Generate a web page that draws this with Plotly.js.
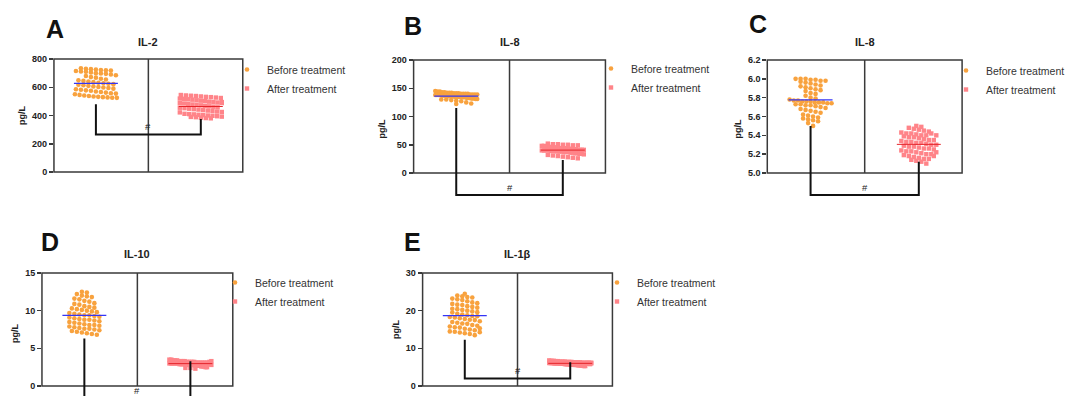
<!DOCTYPE html>
<html><head><meta charset="utf-8">
<script src="https://cdn.plot.ly/plotly-3.0.1.min.js"></script>
<style>html,body{margin:0;padding:0;background:#fff;} #chart{width:1070px;height:396px;}</style>
</head><body><div id="chart"></div>
<script>
// ---------------- data ----------------
const panelLetters = ['A', 'B', 'C', 'D', 'E'];
const panelTitles = ['IL-2', 'IL-8', 'IL-8', 'IL-10', 'IL-1β'];
const groupNames = ['Before treatment', 'After treatment'];
const yUnit = 'pg/L';

const il2Before = [735,730,728,725,722,720,718,715,712,710,705,700,698,695,690,685,680,672,668,660,655,650,645,640,636,632,628,625,622,618,615,610,606,602,598,595,590,586,582,578,575,570,566,562,558,555,550,546,542,538,535,532,530,528,526,525];
const il2After = [545,542,540,538,535,532,530,527,524,520,518,515,512,508,505,502,498,495,492,488,485,482,478,475,472,468,465,462,458,455,452,448,445,442,438,435,432,428,425,422,488,495,412,410,408,405,402,400,398,395,392,390,388,385,382,380];
const il8bBefore = [145,144,144,143,143,142,142,142,141,141,141,140,140,140,140,139,139,139,139,138,138,138,138,137,137,137,137,136,136,136,136,136,135,135,135,135,134,134,134,134,133,133,133,132,132,132,131,131,130,130,129,128,127,125,123,122];
const il8bAfter = [52,51,51,50,50,49,49,48,48,47,47,46,46,45,45,45,44,44,44,43,43,43,42,42,42,41,41,41,41,40,40,40,40,39,39,39,38,38,38,37,37,37,36,36,35,35,34,34,33,32,31,30,29,28,27,26];
const il8cBefore = [6.00,6.00,6.00,5.99,5.99,5.98,5.98,5.97,5.96,5.95,5.94,5.93,5.92,5.91,5.90,5.89,5.88,5.87,5.85,5.84,5.82,5.80,5.79,5.78,5.77,5.77,5.76,5.76,5.76,5.75,5.75,5.75,5.74,5.74,5.73,5.73,5.72,5.72,5.71,5.70,5.69,5.68,5.67,5.66,5.65,5.64,5.62,5.61,5.60,5.59,5.58,5.57,5.56,5.55,5.53,5.50];
const il8cAfter = [5.50,5.49,5.48,5.47,5.46,5.45,5.44,5.43,5.42,5.42,5.41,5.40,5.40,5.39,5.38,5.38,5.37,5.36,5.35,5.35,5.34,5.33,5.33,5.32,5.32,5.31,5.30,5.30,5.29,5.28,5.28,5.27,5.26,5.26,5.25,5.24,5.23,5.23,5.22,5.21,5.20,5.20,5.19,5.18,5.17,5.16,5.15,5.15,5.14,5.13,5.12,5.10,5.42,5.40,5.22,5.18];
const il10Before = [12.5,12.4,12.2,12.0,11.9,11.8,11.6,11.5,11.3,11.2,11.0,10.9,10.8,10.6,10.5,10.4,10.3,10.2,10.1,10.0,9.9,9.8,9.7,9.6,9.5,9.4,9.4,9.3,9.2,9.1,9.0,8.9,8.8,8.8,8.7,8.6,8.5,8.4,8.3,8.2,8.1,8.1,8.0,7.9,7.8,7.7,7.6,7.6,7.5,7.4,7.3,7.2,7.1,7.0,6.9,6.8];
const il10After = [3.5,3.5,3.4,3.4,3.4,3.3,3.3,3.3,3.3,3.2,3.2,3.2,3.2,3.2,3.1,3.1,3.1,3.1,3.1,3.1,3.0,3.0,3.0,3.0,3.0,3.0,3.0,2.9,2.9,2.9,2.9,2.9,2.9,2.8,2.8,2.8,2.8,2.8,2.7,2.7,2.7,2.7,2.6,2.6,2.6,2.5,2.5,2.4,2.4,2.3,3.0,3.1,2.9,3.2,2.8,3.3];
const il1bBefore = [24.5,24.0,23.8,23.6,23.5,23.2,23.0,22.8,22.5,22.2,22.0,21.8,21.6,21.5,21.2,21.0,20.8,20.5,20.4,20.2,20.0,19.8,19.6,19.5,19.2,19.0,18.8,18.6,18.5,18.3,18.2,18.0,17.8,17.6,17.5,17.2,17.0,16.8,16.6,16.5,16.2,16.0,15.8,15.6,15.5,15.2,15.0,14.8,14.5,14.4,14.2,14.0,13.8,13.5,14.3,15.3];
const il1bAfter = [6.8,6.7,6.7,6.6,6.6,6.5,6.5,6.5,6.4,6.4,6.4,6.3,6.3,6.3,6.3,6.2,6.2,6.2,6.2,6.1,6.1,6.1,6.1,6.0,6.0,6.0,6.0,6.0,5.9,5.9,5.9,5.9,5.8,5.8,5.8,5.8,5.7,5.7,5.7,5.7,5.6,5.6,5.6,5.5,5.5,5.5,5.4,5.4,5.3,5.3,6.0,6.1,5.9,6.2,5.8,6.0];

const beforeSeries = [il2Before, il8bBefore, il8cBefore, il10Before, il1bBefore];
const afterSeries = [il2After, il8bAfter, il8cAfter, il10After, il1bAfter];

const tickValsA = [0, 200, 400, 600, 800];
const tickValsB = [0, 50, 100, 150, 200];
const tickValsC = [5.0, 5.2, 5.4, 5.6, 5.8, 6.0, 6.2];
const tickValsD = [0, 5, 10, 15];
const tickValsE = [0, 10, 20, 30];
const tickVals = [tickValsA, tickValsB, tickValsC, tickValsD, tickValsE];
const tickFormats = ['d', 'd', '.1f', 'd', 'd'];

// significance bracket annotation values
const bracketTopBefore = [480, 115, 5.50, 6.3, 12.3];
const bracketTopAfter = [375, 23, 5.12, 3.3, 6.3];
const bracketLevel = [265, -39, 4.766, -1.6, 2];
const sigMark = '#';

// ---------------- layout geometry (pixels) ----------------
const W = 1070, H = 396;
const geom = [
  {l: 54,  r: 243, t: 59,  b: 172, ext: 174, lx: 55,  ly: 29,  legX: 227, legY: 79},
  {l: 414, r: 606, t: 60,  b: 173, ext: 200, lx: 413, ly: 26,  legX: 591, legY: 78},
  {l: 768, r: 963, t: 60,  b: 173, ext: 200, lx: 759, ly: 24,  legX: 947, legY: 80},
  {l: 42,  r: 233, t: 273, b: 386, ext: 396, lx: 50,  ly: 242, legX: 215, legY: 292},
  {l: 423, r: 613, t: 273, b: 386, ext: 388, lx: 413, ly: 242, legX: 597, legY: 292}
];
const titleY = [42, 42, 42, 254, 254];

const FONT = 'Liberation Sans, Arial, sans-serif';
const ORANGE = '#F8A23E', PINK = '#FF8489', BLUE = '#3535F5', RED = '#E5262B', FRAME = '#3a3a3a';
const X_RANGE = [-0.4, 1.4];

function swarmX(values, center, pxPerX, pxPerY, yMin) {
  const rowH = 4.6, step = 5, maxW = 42;
  const rows = {};
  values.forEach((v, i) => {
    const r = Math.floor((v - yMin) * pxPerY / rowH);
    (rows[r] = rows[r] || []).push(i);
  });
  const xs = new Array(values.length);
  Object.values(rows).forEach(idx => {
    const n = idx.length;
    const s = n > 1 ? Math.min(step, maxW / (n - 1)) : 0;
    idx.forEach((k, j) => { xs[k] = center + (j - (n - 1) / 2) * s / pxPerX; });
  });
  return xs;
}
const mean = a => a.reduce((s, v) => s + v, 0) / a.length;

const data = [], shapes = [], annotations = [];
const layout = {
  width: W, height: H, margin: {l: 0, r: 0, t: 0, b: 0},
  paper_bgcolor: '#fff', plot_bgcolor: 'rgba(0,0,0,0)',
  font: {family: FONT, color: '#222'},
  showlegend: true
};

geom.forEach((g, i) => {
  const sfx = i === 0 ? '' : String(i + 1);
  const xa = 'x' + sfx, ya = 'y' + sfx;
  const tv = tickVals[i];
  const yMin = tv[0], yMax = tv[tv.length - 1];
  const boxH = g.b - g.t, boxW = g.r - g.l;
  const pxPerY = boxH / (yMax - yMin);
  const pxPerX = boxW / (X_RANGE[1] - X_RANGE[0]);
  const range = [yMin - (g.ext - g.b) / pxPerY, yMax + 2 / pxPerY];
  const legName = i === 0 ? 'legend' : 'legend' + (i + 1);

  layout['xaxis' + sfx] = {
    domain: [g.l / W, g.r / W], range: X_RANGE, visible: false, fixedrange: true,
    anchor: ya
  };
  layout['yaxis' + sfx] = {
    domain: [1 - g.ext / H, 1 - (g.t - 2) / H], range: range, anchor: xa,
    tickvals: tv, tickformat: tickFormats[i], ticks: 'outside', ticklen: 4, tickwidth: 1.5,
    tickcolor: FRAME, showline: false, showgrid: false, zeroline: false,
    tickfont: {size: 9, weight: 'bold', color: '#222', family: FONT},
    title: {text: yUnit, font: {size: 9, weight: 'bold', color: '#222', family: FONT}, standoff: 4}
  };
  layout[legName] = {
    x: g.legX / W, y: 1 - g.legY / H, xanchor: 'left', yanchor: 'middle',
    bgcolor: 'rgba(0,0,0,0)', borderwidth: 0, itemwidth: 30,
    font: {size: 10.5, color: '#333', family: FONT}
  };

  const before = beforeSeries[i], after = afterSeries[i];
  const hw = 22 / pxPerX;
  data.push({
    type: 'scatter', mode: 'markers', name: groupNames[0], legend: legName,
    x: swarmX(before, 0, pxPerX, pxPerY, yMin), y: before, xaxis: xa, yaxis: ya,
    marker: {symbol: 'circle', size: 4.6, color: ORANGE}, cliponaxis: false
  });
  data.push({
    type: 'scatter', mode: 'markers', name: groupNames[1], legend: legName,
    x: swarmX(after, 1, pxPerX, pxPerY, yMin), y: after, xaxis: xa, yaxis: ya,
    marker: {symbol: 'square', size: 4.4, color: PINK}, cliponaxis: false
  });
  const mb = mean(before), ma = mean(after);
  data.push({
    type: 'scatter', mode: 'lines', showlegend: false, hoverinfo: 'skip',
    x: [-hw, hw], y: [mb, mb], xaxis: xa, yaxis: ya, line: {color: BLUE, width: 1.3}
  });
  data.push({
    type: 'scatter', mode: 'lines', showlegend: false, hoverinfo: 'skip',
    x: [1 - hw, 1 + hw], y: [ma, ma], xaxis: xa, yaxis: ya, line: {color: RED, width: 1}
  });

  // frame box
  shapes.push({type: 'rect', xref: xa + ' domain', yref: ya, x0: 0, x1: 1, y0: yMin, y1: yMax,
    line: {color: FRAME, width: 1.5}, fillcolor: 'rgba(0,0,0,0)'});
  // middle divider
  shapes.push({type: 'line', xref: xa, yref: ya, x0: 0.5, x1: 0.5, y0: yMin, y1: yMax,
    line: {color: FRAME, width: 1.5}});
  // significance bracket
  shapes.push({type: 'path', xref: xa, yref: ya,
    path: `M 0,${bracketTopBefore[i]} L 0,${bracketLevel[i]} L 1,${bracketLevel[i]} L 1,${bracketTopAfter[i]}`,
    line: {color: '#111', width: 2}});
  annotations.push({xref: xa, yref: ya, x: 0.5, y: bracketLevel[i] + 8 / pxPerY, text: sigMark,
    showarrow: false, font: {size: 9.5, color: '#222', family: FONT}, xanchor: 'center', yanchor: 'middle'});

  // panel letter + title
  annotations.push({xref: 'paper', yref: 'paper', x: g.lx / W, y: 1 - g.ly / H, text: '<b>' + panelLetters[i] + '</b>',
    showarrow: false, font: {size: 25, color: '#111', family: FONT}, xanchor: 'center', yanchor: 'middle'});
  annotations.push({xref: 'paper', yref: 'paper', x: (g.l + g.r) / 2 / W, y: 1 - titleY[i] / H,
    text: '<b>' + panelTitles[i] + '</b>', showarrow: false,
    font: {size: 11, color: '#222', family: FONT}, xanchor: 'center', yanchor: 'middle'});
});

layout.shapes = shapes;
layout.annotations = annotations;

Plotly.newPlot('chart', data, layout, {displayModeBar: false, staticPlot: true});
</script>
</body></html>
